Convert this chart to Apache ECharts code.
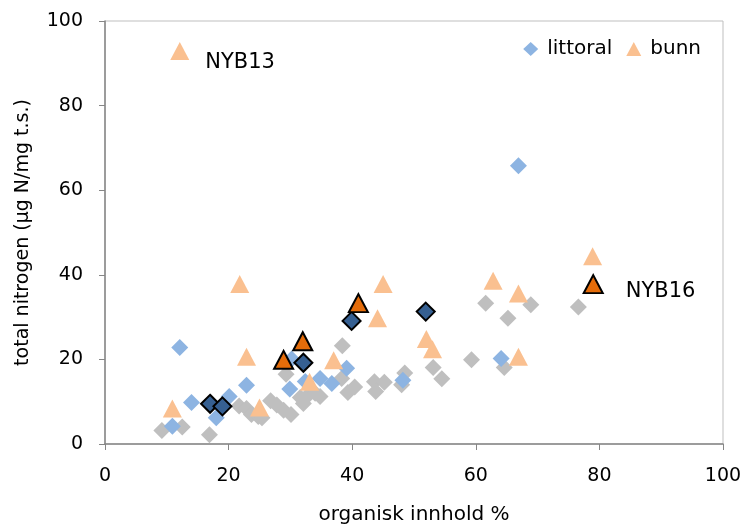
<!DOCTYPE html>
<html>
<head>
<meta charset="utf-8">
<script src="https://cdn.jsdelivr.net/npm/echarts@6/dist/echarts.min.js"></script>
<style>
html,body{margin:0;padding:0;background:#fff;}
#c{width:747px;height:526px;}
</style>
</head>
<body>
<div id="c"></div>
<script>
// [organisk innhold %, total nitrogen]
const otherPoints = [
  [9.2,3.2],[12.5,4.0],[16.9,2.2],[21.7,9.0],[22.9,8.4],[23.7,7.0],[24.8,6.5],[25.4,6.2],
  [26.8,10.2],[27.8,9.2],[28.9,8.0],[30.1,7.0],[29.3,16.5],[31.6,11.0],[32.1,9.6],[32.9,11.6],
  [34.0,12.0],[34.8,11.2],[38.4,23.2],[38.3,15.5],[39.3,12.2],[40.4,13.5],[43.6,14.7],[43.8,12.4],
  [45.2,14.6],[48.5,16.8],[48.0,14.0],[53.1,18.1],[54.5,15.4],[59.3,19.9],[61.6,33.3],[64.6,18.1],
  [65.2,29.7],[68.9,32.9],[76.6,32.4]
];
const littoral = [
  [10.9,4.2],[12.1,22.8],[14.0,9.8],[18.0,6.2],[20.1,11.2],[22.9,13.9],[29.9,13.0],[30.2,20.1],
  [32.4,14.8],[34.8,15.5],[36.7,14.3],[39.1,17.9],[48.2,15.1],[64.1,20.2],[66.9,65.8]
];
const bunn = [
  [12.1,92.9],[10.9,8.4],[21.8,37.8],[22.9,20.6],[25.0,8.6],[33.1,14.7],[37.0,19.8],[44.1,29.7],
  [45.0,37.8],[52.0,24.8],[53.0,22.4],[62.8,38.6],[66.9,35.6],[66.9,20.6],[78.9,44.4]
];
const littoralSelected = [[17.0,9.5],[19.0,8.9],[32.1,19.2],[39.9,29.1],[51.9,31.3]];
const bunnSelected = [[28.9,19.9],[32.0,24.3],[41.0,33.3],[79.0,37.8]];
const bunnNames = ['NYB13'];                 // name of bunn[0]
const bunnSelectedNames = ['', '', '', 'NYB16']; // name of bunnSelected[3]
const xTicks = [0,20,40,60,80,100];
const yTicks = [0,20,40,60,80,100];

const FONT = 'DejaVu Sans';
const chart = echarts.init(document.getElementById('c'), null, {renderer:'canvas'});

function withLabels(points, names, labelOpt){
  return points.map((p,i)=>{
    const n = names[i];
    if(n){
      return {value:p, name:n, label:Object.assign({show:true, formatter:n}, labelOpt)};
    }
    return {value:p};
  });
}
const nameLabelStyle = {position:'right', color:'#000', fontFamily:FONT, fontSize:21};

chart.setOption({
  animation:false,
  backgroundColor:'#fff',
  textStyle:{fontFamily:FONT},
  grid:{left:105, right:24, top:21, bottom:82, containLabel:false, outerBoundsMode:'none',
    show:true, borderColor:'#bfbfbf', borderWidth:1, backgroundColor:'transparent'},
  legend:{
    right:41, top:34, itemGap:14, itemWidth:15, itemHeight:14,
    textStyle:{fontFamily:FONT, fontSize:20, color:'#000', padding:[0,0,0,4]},
    data:[{name:'littoral', icon:'diamond'},{name:'bunn', icon:'triangle'}]
  },
  xAxis:{
    type:'value', min:xTicks[0], max:xTicks[xTicks.length-1], interval:xTicks[1]-xTicks[0],
    name:'organisk innhold %', nameLocation:'middle', nameGap:61,
    nameTextStyle:{fontFamily:FONT, fontSize:20, color:'#000'},
    axisLine:{show:true, onZero:false, lineStyle:{color:'#868686', width:1.5}},
    axisTick:{show:true, inside:false, length:6, lineStyle:{color:'#868686'}},
    axisLabel:{fontFamily:FONT, fontSize:19, color:'#000', margin:23},
    splitLine:{show:false}
  },
  yAxis:{
    type:'value', min:yTicks[0], max:yTicks[yTicks.length-1], interval:yTicks[1]-yTicks[0],
    name:'total nitrogen (µg N/mg t.s.)', nameLocation:'middle', nameGap:72, nameRotate:90,
    nameTextStyle:{fontFamily:FONT, fontSize:19, color:'#000'},
    axisLine:{show:true, onZero:false, lineStyle:{color:'#868686', width:1.5}},
    axisTick:{show:true, inside:false, length:6, lineStyle:{color:'#868686'}},
    axisLabel:{fontFamily:FONT, fontSize:19, color:'#000', margin:22},
    splitLine:{show:false}
  },
  series:[
    {name:'andre', type:'scatter', symbol:'diamond', symbolSize:17, z:1,
      itemStyle:{color:'#bfbfbf', opacity:1}, data:otherPoints},
    {name:'littoral', type:'scatter', symbol:'diamond', symbolSize:17, z:2,
      itemStyle:{color:'#8db4e2', opacity:1}, data:littoral},
    {name:'bunn', type:'scatter', symbol:'triangle', symbolSize:[19,18], z:3,
      itemStyle:{color:'#fac090', opacity:1},
      data:withLabels(bunn, bunnNames, Object.assign({distance:16, offset:[0,12]}, nameLabelStyle))},
    {name:'littoral utvalgt', type:'scatter', symbol:'diamond', symbolSize:18, z:4,
      itemStyle:{color:'#366092', borderColor:'#000', borderWidth:2, opacity:1}, data:littoralSelected},
    {name:'bunn utvalgt', type:'scatter', symbol:'triangle', symbolSize:[19,18], z:5,
      itemStyle:{color:'#e46c0a', borderColor:'#000', borderWidth:2, opacity:1},
      data:withLabels(bunnSelected, bunnSelectedNames, Object.assign({distance:22, offset:[0,7]}, nameLabelStyle))}
  ]
});
</script>
</body>
</html>
